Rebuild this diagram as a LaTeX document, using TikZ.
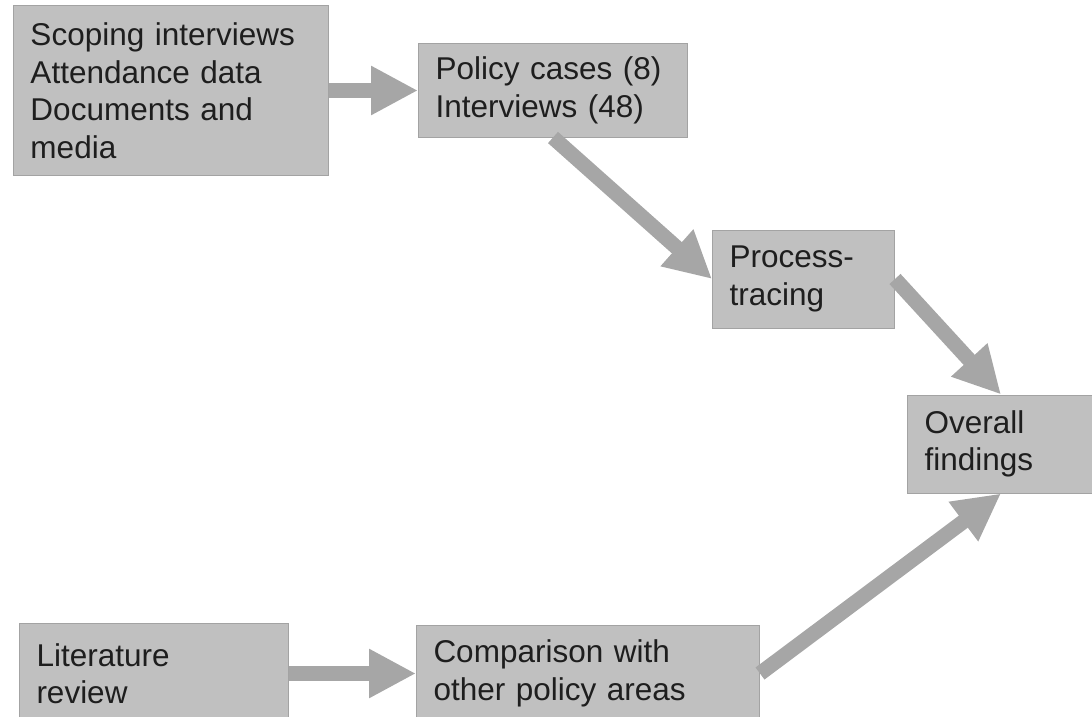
\documentclass[tikz,border=0pt]{standalone}
\usepackage{fontspec}
\setmainfont{Liberation Sans}
\usetikzlibrary{arrows.meta,positioning}
\definecolor{boxfill}{HTML}{C0C0C0}
\definecolor{boxline}{HTML}{A3A3A3}
\definecolor{arrgray}{HTML}{A6A6A6}
\definecolor{txtgray}{HTML}{1E1E1E}
\tikzset{
  stage/.style={rectangle, draw=boxline, line width=1pt, fill=boxfill, text=txtgray,
                align=left, font=\fontsize{31.5}{37.5}\selectfont, inner xsep=17pt, minimum height=#1},
  arr/.style={-{Triangle[length=47pt,width=46pt]}, line width=15pt, draw=arrgray},
}
\begin{document}
\begin{tikzpicture}[x=1pt,y=-1pt]
    \useasboundingbox (0,0) rectangle (1092,717);
    \node[stage=170pt, text width=281pt, anchor=north west] (src) at (13,5)
      {Scoping interviews\\Attendance data\\Documents and\\media};
    \node[stage=93pt, text width=235pt, right=89pt of src] (cases)
      {Policy cases (8)\\Interviews (48)};
    \node[stage=98pt, text width=148pt, below right=92pt and 24pt of cases.south east] (trace)
      {Process-\\tracing};
    \node[stage=98pt, text width=153pt, below right=66pt and 12pt of trace.south east] (find)
      {Overall\\findings};
    \node[stage=100pt, text width=235pt, below right=447pt and 6pt of src.south west] (lit)
      {Literature\\review};
    \node[stage=96pt, text width=309pt, right=127pt of lit] (comp)
      {Comparison with\\other policy areas};
    \draw[arr] (src) -- (cases);
    \draw[arr] (cases.south) -- (trace.west);
    \draw[arr] (trace.east) -- (find.north);
    \draw[arr] (lit) -- (comp);
    \draw[arr] (comp.east) -- (find.south);
  \end{tikzpicture}
\end{document}
